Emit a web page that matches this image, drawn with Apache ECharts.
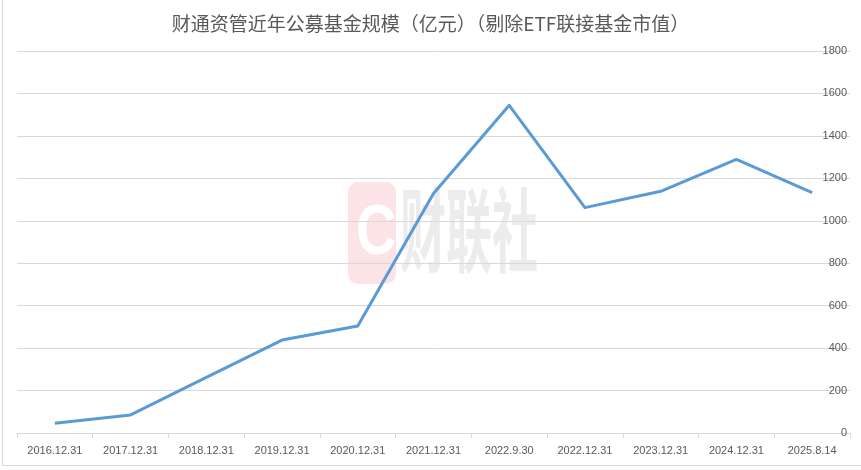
<!DOCTYPE html>
<html>
<head>
<meta charset="utf-8">
<script src="https://cdn.jsdelivr.net/npm/echarts@6/dist/echarts.min.js"></script>
<style>html,body{margin:0;padding:0;background:#fff}#c{width:861px;height:470px}</style>
</head>
<body>
<div id="c"></div>
<script>
var titleText = '财通资管近年公募基金规模（亿元）（剔除ETF联接基金市值）';
var categories = ['2016.12.31','2017.12.31','2018.12.31','2019.12.31','2020.12.31','2021.12.31','2022.9.30','2022.12.31','2023.12.31','2024.12.31','2025.8.14'];
var scaleValues = [46, 85, 262, 438, 504, 1129, 1544, 1062, 1139, 1289, 1133];
var yTicks = {min: 0, max: 1800, interval: 200};

var chart = echarts.init(document.getElementById('c'));
chart.setOption({
  animation: false,
  backgroundColor: '#ffffff',
  title: {
    text: titleText,
    left: 'center',
    top: 9,
    textStyle: {fontFamily: 'Noto Sans CJK SC', fontSize: 19, fontWeight: 'normal', color: '#595959'}
  },
  grid: {left: 17, right: 11, top: 51, bottom: 37, containLabel: false},
  graphic: [
    {type: 'line', shape: {x1: 2.5, y1: 0, x2: 2.5, y2: 465}, style: {stroke: '#d9d9d9', lineWidth: 1}, silent: true},
    {type: 'line', shape: {x1: 2, y1: 465.5, x2: 861, y2: 465.5}, style: {stroke: '#d9d9d9', lineWidth: 1}, silent: true},
    {type: 'rect', z: -1, shape: {x: 348, y: 182, width: 48, height: 102, r: 10}, style: {fill: '#fbe3e6'}, silent: true},
    {type: 'text', z: -1, x: 356, y: 200, scaleX: 0.8, style: {text: 'C', fill: '#ffffff', fontSize: 70, fontWeight: 'bold', fontFamily: 'Liberation Sans'}, silent: true},
    {type: 'text', z: -1, x: 400, y: 184, scaleX: 0.5, style: {text: '财联社', fill: '#ececec', fontSize: 92, fontWeight: 'bold', fontFamily: 'Noto Sans CJK SC'}, silent: true}
  ],
  xAxis: {
    type: 'category',
    data: categories,
    boundaryGap: true,
    axisLine: {lineStyle: {color: '#d9d9d9', width: 1}},
    axisTick: {show: true, length: 5, lineStyle: {color: '#d9d9d9'}},
    axisLabel: {color: '#595959', fontSize: 11, fontFamily: 'Liberation Sans', margin: 12, interval: 0}
  },
  yAxis: {
    type: 'value',
    position: 'right',
    min: yTicks.min,
    max: yTicks.max,
    interval: yTicks.interval,
    axisLine: {show: false},
    axisTick: {show: false},
    axisLabel: {inside: true, margin: 3, color: '#595959', fontSize: 11, fontFamily: 'Liberation Sans', verticalAlign: 'middle',
      formatter: function (v) { return String(v); }},
    splitLine: {lineStyle: {color: '#d9d9d9', width: 1}}
  },
  series: [{
    type: 'line',
    data: scaleValues,
    showSymbol: false,
    symbol: 'none',
    lineStyle: {color: '#5b9bd5', width: 3, join: 'round'},
    z: 5
  }]
});
</script>
</body>
</html>
